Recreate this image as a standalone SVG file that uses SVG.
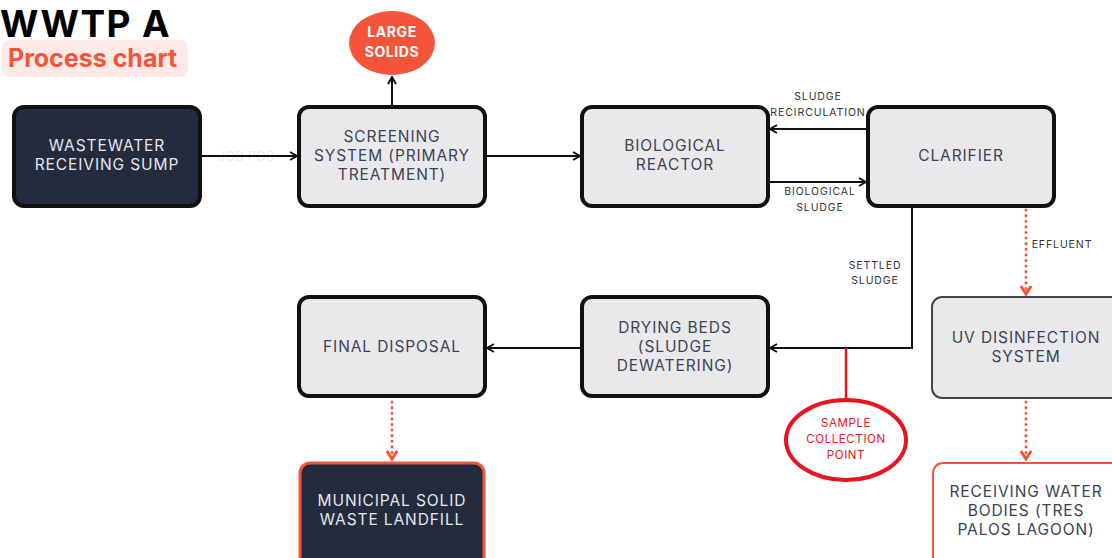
<svg xmlns="http://www.w3.org/2000/svg" width="1112" height="558" viewBox="0 0 1112 558">
<defs>
<style>
.t{font-family:Inter,"Liberation Sans",sans-serif;font-size:15.5px;text-anchor:middle;fill:#3b4356;letter-spacing:0.9px}
.tw{fill:#e6e6ea}
.lab{font-family:Inter,"Liberation Sans",sans-serif;font-size:10.5px;text-anchor:middle;fill:#333;letter-spacing:0.9px}
.box{fill:#e9e9ec;stroke:#111;stroke-width:4}
.dark{fill:#232b3e;stroke:#111;stroke-width:4}
.ln{stroke:#111;stroke-width:2;fill:none}
.dot{stroke:#f4553a;stroke-width:3;fill:none;stroke-dasharray:0.1 5.5;stroke-linecap:round}
</style>
<marker id="ah" viewBox="0 0 10 10" refX="9" refY="5" markerWidth="10" markerHeight="10" markerUnits="userSpaceOnUse" orient="auto">
<path d="M2,1 L9,5 L2,9" fill="none" stroke="#111" stroke-width="2"/>
</marker>
<marker id="ahr" viewBox="0 0 12 12" refX="10" refY="6" markerWidth="12" markerHeight="12" markerUnits="userSpaceOnUse" orient="auto">
<path d="M3,1.5 L10,6 L3,10.5" fill="none" stroke="#f4553a" stroke-width="3" stroke-linecap="round"/>
</marker>
</defs>
<rect width="1112" height="558" fill="#fff"/>
<g id="title">
<text x="0" y="37" font-family="Inter,'Liberation Sans',sans-serif" font-weight="700" font-size="37" letter-spacing="1.4" fill="#000">WWTP A</text>
<rect x="2" y="40" width="186" height="37" rx="8" fill="#fde9e6"/>
<text x="8" y="67" font-family="Inter,'Liberation Sans',sans-serif" font-weight="700" font-size="25" fill="#f4553a">Process chart</text>
</g>
<text x="246" y="161" font-family="Inter,'Liberation Sans',sans-serif" font-size="13" fill="#ededed" text-anchor="middle">JOB POS</text>
<g id="connectors">
<line class="ln" x1="202" y1="156" x2="297" y2="156" marker-end="url(#ah)"/>
<line class="ln" x1="392" y1="105" x2="392" y2="77" marker-end="url(#ah)"/>
<line class="ln" x1="487" y1="156" x2="580" y2="156" marker-end="url(#ah)"/>
<line class="ln" x1="866" y1="129" x2="770" y2="129" marker-end="url(#ah)"/>
<line class="ln" x1="770" y1="182" x2="866" y2="182" marker-end="url(#ah)"/>
<polyline class="ln" points="912,208 912,348 770,348" marker-end="url(#ah)"/>
<line class="ln" x1="580" y1="348" x2="487" y2="348" marker-end="url(#ah)"/>
<line class="dot" x1="1026" y1="210" x2="1026" y2="294" marker-end="url(#ahr)"/>
<line class="dot" x1="392" y1="402" x2="392" y2="459" marker-end="url(#ahr)"/>
<line class="dot" x1="1026" y1="402" x2="1026" y2="459" marker-end="url(#ahr)"/>
<line x1="846" y1="348" x2="846" y2="400" stroke="#e8141e" stroke-width="2.5"/>
<text class="lab"><tspan x="818" y="100">SLUDGE</tspan><tspan x="818" y="116">RECIRCULATION</tspan></text>
<text class="lab"><tspan x="820" y="195">BIOLOGICAL</tspan><tspan x="820" y="211">SLUDGE</tspan></text>
<text class="lab"><tspan x="875" y="269">SETTLED</tspan><tspan x="875" y="284">SLUDGE</tspan></text>
<text class="lab" x="1062" y="248">EFFLUENT</text>
</g>
<g id="wastewater">
<rect class="dark" x="14" y="107" width="186" height="99" rx="10"/>
<text class="t tw"><tspan x="107" y="151">WASTEWATER</tspan><tspan x="107" y="170">RECEIVING SUMP</tspan></text>
</g>
<g id="large-solids">
<ellipse cx="392" cy="43" rx="43" ry="32" fill="#f4553a"/>
<text font-family="Inter,'Liberation Sans',sans-serif" font-size="14" font-weight="700" fill="#fff" text-anchor="middle" letter-spacing="0.6"><tspan x="392" y="37">LARGE</tspan><tspan x="392" y="57">SOLIDS</tspan></text>
</g>
<g id="screening">
<rect class="box" x="299" y="107" width="186" height="99" rx="10"/>
<text class="t"><tspan x="392" y="142">SCREENING</tspan><tspan x="392" y="161">SYSTEM (PRIMARY</tspan><tspan x="392" y="180">TREATMENT)</tspan></text>
</g>
<g id="bioreactor">
<rect class="box" x="582" y="107" width="186" height="99" rx="10"/>
<text class="t"><tspan x="675" y="151">BIOLOGICAL</tspan><tspan x="675" y="170">REACTOR</tspan></text>
</g>
<g id="clarifier">
<rect class="box" x="868" y="107" width="186" height="99" rx="10"/>
<text class="t" x="961" y="161">CLARIFIER</text>
</g>
<g id="uv">
<rect x="932" y="297" width="190" height="101" rx="10" fill="#e9e9ec" stroke="#444" stroke-width="2"/>
<text class="t"><tspan x="1026" y="343">UV DISINFECTION</tspan><tspan x="1026" y="362">SYSTEM</tspan></text>
</g>
<g id="drying">
<rect class="box" x="582" y="297" width="186" height="99" rx="10"/>
<text class="t"><tspan x="675" y="333">DRYING BEDS</tspan><tspan x="675" y="352">(SLUDGE</tspan><tspan x="675" y="371">DEWATERING)</tspan></text>
</g>
<g id="final">
<rect class="box" x="299" y="297" width="186" height="99" rx="10"/>
<text class="t" x="392" y="352">FINAL DISPOSAL</text>
</g>
<g id="landfill">
<rect x="300" y="463" width="184" height="105" rx="10" fill="#232b3e" stroke="#f4553a" stroke-width="3"/>
<text class="t tw"><tspan x="392" y="506">MUNICIPAL SOLID</tspan><tspan x="392" y="525">WASTE LANDFILL</tspan></text>
</g>
<g id="sample">
<ellipse cx="846" cy="440" rx="60" ry="40" fill="#fff" stroke="#e8141e" stroke-width="4"/>
<text font-family="Inter,'Liberation Sans',sans-serif" font-size="11.5" fill="#e8141e" text-anchor="middle" letter-spacing="0.6"><tspan x="846" y="427">SAMPLE</tspan><tspan x="846" y="443">COLLECTION</tspan><tspan x="846" y="459">POINT</tspan></text>
</g>
<g id="receiving">
<rect x="933" y="463" width="190" height="105" rx="10" fill="#fff" stroke="#f4553a" stroke-width="2"/>
<text class="t"><tspan x="1026" y="497">RECEIVING WATER</tspan><tspan x="1026" y="516">BODIES (TRES</tspan><tspan x="1026" y="535">PALOS LAGOON)</tspan></text>
</g>
</svg>
